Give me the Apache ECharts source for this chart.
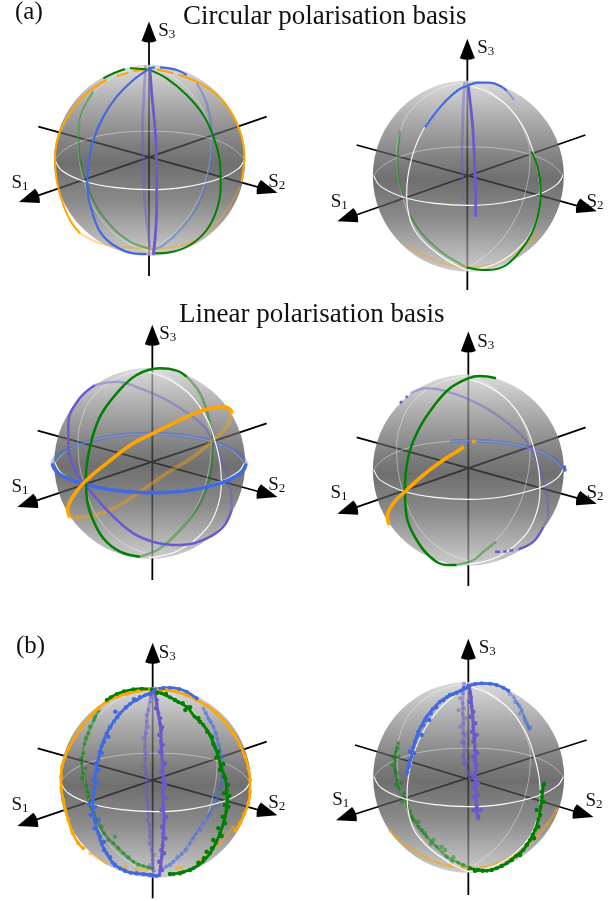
<!DOCTYPE html>
<html><head><meta charset="utf-8">
<style>html,body{margin:0;padding:0;background:#fff}#c{width:616px;height:901px}</style>
<script src="https://cdn.jsdelivr.net/npm/echarts@6/dist/echarts.min.js"></script>
</head><body><div id="c"></div>
<script>
const GAP=['-','-'];
const ORANGE='#FFA500',GREEN='#008000',BLUE='#4169E1',PURPLE='#6A5ACD';
// Panel 1: circular basis, left
const p1OrangeFront=[[440,208],[400,214],GAP,[385,218],[350,228],GAP,[320,240],[260,280],[210,340],[178,400],[165,470],[170,540],[185,600],[210,660],[240,700],GAP,[470,208],[520,220],GAP,[535,224],[590,245],[650,285],[695,340],[722,400],[733,470],[725,545]];
const p1OrangeBack=[[240,700],[300,730],[350,738],[440,745],[540,738],[620,695],[680,630],[720,560]];
const p1GreenFront=[[445,208],[500,235],[560,285],[610,345],[640,410],[660,490],[662,560],[650,630],[620,690],[570,735],[510,757],[465,760],GAP,[440,208],[390,205],GAP,[375,207],[340,220],[310,235]];
const p1GreenBack=[[280,275],[245,340],[235,410],[240,480],[258,545],[290,620],[340,685],[390,725],[445,745]];
const p1BlueFront=[[445,208],[400,240],[350,290],[310,350],[280,420],[265,490],[262,560],[275,630],[300,695],[340,735],[400,760],[440,762],GAP,[445,205],[465,202],GAP,[480,202],[530,210],[560,225]];
const p1BlueBack=[[590,250],[620,310],[635,400],[632,480],[615,560],[585,630],[540,690],[490,735],[455,750]];
const p1PurpleFront=[[450,208],[455,280],[462,350],[468,430],[470,520],[470,600],[468,680],[460,765]];
const p1PurpleBack=[[437,196],[432,280],[428,380],[430,480],[432,560],[437,640],[445,700],[450,750]];
// Panel 2: circular basis, right
const p2BlueFront=[[345,322],[375,280],[410,240],[445,210],[472,197],[505,188],[540,188],[575,200],[590,212]];
const p2BlueBack=[[590,212],[603,228],[612,240]];
const p2PurpleFront=[[475,200],[482,260],[488,320],[492,390],[495,460],[497,530],[497,590]];
const p2PurpleBack=[[464,185],[460,250],[458,320],[456,400],[458,490],GAP,[459,525],[459,540]];
const p2GreenFront=[[470,742],[520,750],[580,740],[625,700],[665,640],[685,580],[692,520],[685,450],[665,395]];
const p2GreenBack=[[270,332],[268,350],[265,380],[262,420],[263,450],[268,490],[280,525],GAP,[300,585],[335,640],[400,700],[470,742]];
const p2OrangeBack=[[290,678],[340,705],[400,730],[470,742],[540,735],[610,700],[660,665],[690,638]];
// Panel 3: linear basis, left
const p3GreenFront=[[420,770],[360,755],[310,715],[275,650],[260,590],[258,530],[270,440],[300,350],[350,280],[410,225],[480,205],[530,212],[560,230]];
const p3GreenBack=[[560,230],[600,280],[625,350],[638,430],[632,520],[600,610],[550,680],[480,745],[420,770]];
const p3BlueFront=[[157,490],[163,507],[185,527],[250,552],[340,570],[450,578],[560,572],[660,550],[715,525],[733,507],[738,490]];
const p3BlueBack=[[738,490],[730,472],[705,452],[640,425],[560,408],[450,400],[340,408],[250,430],[190,455],[165,473],[157,490]];
const p3OrangeFront=[[210,652],[203,630],[222,585],[260,540],[320,490],[400,430],[470,395],[550,355],[620,328],[670,320],[692,330],[695,340]];
const p3OrangeBack=[[210,652],[260,650],[340,625],[420,575],[500,520],[580,470],[640,420],[680,380],[695,340]];
const p3PurpleFront=[[285,255],[235,300],[205,370],[205,440],[225,510],[260,560],[330,640],[400,700],[470,728],[540,735],[620,715],[670,680],[695,630]];
const p3PurpleBack=[[285,255],[350,245],[420,265],[500,300],[570,345],[620,390],[660,470],[690,560],[695,630]];
// Panel 4: linear basis, right
const p4GreenFront=[[440,795],[410,795],[360,770],[320,720],[290,650],[285,570],[295,470],[325,390],[370,320],[420,265],[475,235],[510,228],[558,235]];
const p4GreenBack=[[440,795],[490,780],[520,755],[558,725]];
const p4OrangeFront=[[238,675],[232,650],[250,610],[285,575],[340,525],[400,480],[440,455],[462,440],GAP,[487,425],[497,423]];
const p4BlueBack=[[420,423],[500,422],[580,428],[660,445],[730,475],[760,505]];
const p4BlueFront=[[762,497],[765,515]];
const p4PurpleFront=[[270,310],[276,303],GAP,[287,292],[293,289],GAP,[700,680],[670,725],[625,748],GAP,[610,750],[598,752],GAP,[590,754],[580,755],GAP,[570,755],[555,755]];
const p4PurpleBack=[[300,280],[350,265],[430,280],[520,320],[600,375],[660,440],[700,540],[715,640],[700,680]];
// Panel 5: measured, left
const p5OrangeFront=[[450,208],[415,214],[380,222],[350,230],[320,245],[295,265],[270,290],[245,320],[225,350],[207,382],[195,410],[186,440],[183,470],[184,505],[190,540],[196,570],[205,600],[218,640],[235,670],[250,685],GAP,[470,208],[500,210],[530,215],[560,226],[590,240],[622,258],[650,280],[678,310],[700,340],[720,375],[735,410],[745,445],[750,480],[750,515],[745,550],[733,582],[720,610],[705,632]];
const p5OrangeBack=[[270,700],[320,730],GAP,[370,740],[378,741],GAP,[405,746],[440,750],GAP,[530,745],[545,742],GAP,[600,720],[660,670],[700,620]];
const p5GreenFront=[[460,212],[485,220],[510,232],[535,246],[562,262],[584,290],[610,315],[630,345],[645,382],[655,410],[663,440],[676,475],[680,510],[682,540],[679,572],[672,605],[660,640],[648,668],[630,700],[608,725],[580,745],[550,756],[520,762],GAP,[455,208],[425,206],[400,208],[372,214],[350,222],[332,232],[320,240]];
const p5GreenFrontDots=[[472,218],[498,222],[525,240],[548,250],[570,262],[556,270],[595,295],[600,305],[622,335],[636,352],[640,372],[655,395],[650,412],[670,432],[660,450],[672,470],[684,495],[672,520],[688,528],[674,555],[685,560],[668,590],[675,610],[655,625],[665,648],[640,660],[636,685],[620,695],[612,715],[595,728],[570,750],[540,760],[510,762]];
const p5GreenBack=[[296,272],[282,300],[265,340],[254,372],[250,400],[246,432],[250,460],[258,498],[265,530],[272,560],[290,600],[312,640],[340,670],[370,700],[400,725],[430,738],[455,745]];
const p5GreenBackDots=[[285,290],[270,320],[258,355],[244,415],[255,445],[246,475],[262,515],[275,545],[282,580],[305,620],[325,660],[345,650],[355,685],[385,712],[415,735],[445,742]];
const p5BlueFront=[[460,215],[435,226],[410,240],[390,252],[360,280],[342,304],[320,340],[305,378],[295,420],[288,455],[283,500],[278,540],[278,570],[285,605],[295,640],[305,672],[320,700],[338,728],[360,745],[392,758],[430,762],[470,768],GAP,[465,208],[490,204],[510,203],[538,207],[560,215],[590,235]];
const p5BlueFrontDots=[[450,222],[420,232],[402,238],[378,262],[352,292],[346,275],[330,322],[325,350],[312,365],[300,395],[305,400],[288,430],[296,450],[282,480],[290,490],[280,520],[268,552],[285,560],[272,585],[296,600],[284,625],[300,650],[312,665],[312,690],[330,712],[345,735],[375,752],[410,760],[450,765]];
const p5BlueBack=[[610,265],[625,295],[640,320],[652,358],[660,390],[666,430],[665,470],[660,505],[650,540],[628,582],[610,610],[588,642],[570,670],[545,702],[520,725],[498,740],[480,750]];
const p5BlueBackDots=[[618,280],[632,305],[648,340],[655,375],[668,410],[660,450],[668,490],[640,525],[655,555],[622,590],[600,630],[580,655],[558,690],[532,712],[510,735]];
const p5PurpleFront=[[465,220],[470,252],[475,280],[480,312],[483,330],[483,365],[485,400],[488,440],[490,480],[488,520],[490,560],[492,600],[490,640],[488,676],[485,710],[482,740],[478,765]];
const p5PurpleFrontDots=[[470,240],[468,265],[480,295],[486,322],[478,345],[488,375],[480,395],[495,430],[484,455],[496,490],[488,510],[497,535],[484,570],[498,590],[486,620],[496,655],[484,690],[492,700],[478,725],[486,750]];
const p5PurpleBack=[[455,215],[450,245],[445,270],[440,305],[437,340],[435,380],[435,420],[438,462],[440,500],[442,540],[445,580],[448,615],[450,650],[455,690],[458,720],[462,755]];
const p5PurpleBackDots=[[452,230],[440,285],[445,320],[430,355],[440,400],[430,440],[445,480],[434,520],[448,560],[442,600],[455,635],[448,670],[462,705],[452,735]];
// Panel 6: measured, right
const p6BlueFront=[[475,200],[452,212],[430,222],[410,232],[390,245],[368,268],[350,290],[333,320],[320,350],[310,382],[305,410],[298,432],[292,455],GAP,[475,197],[495,192],[515,190],[540,191],[560,195],[580,203],[595,212]];
const p6BlueFrontDots=[[462,205],[440,218],[420,225],[400,240],[378,262],[362,280],[345,300],[340,315],[358,300],[325,335],[335,345],[315,365],[300,395],[312,400],[296,440],[300,420],[290,458]];
const p6BlueBack=[[610,230],[622,250],[635,270],[642,290],[655,320],[658,328]];
const p6BlueBackDots=[[600,222],[615,245],[628,258],[630,280],[645,300],[650,310],[660,322]];
const p6PurpleFront=[[478,200],[483,232],[485,260],[488,290],[490,320],[493,355],[495,390],[495,420],[497,450],[496,480],[498,510],[498,540],[500,562],[501,575],[505,595]];
const p6PurpleFrontDots=[[480,218],[478,245],[490,275],[482,290],[496,310],[486,335],[500,345],[490,365],[502,400],[488,410],[500,435],[488,465],[504,490],[490,500],[505,525],[490,530],[500,555],[490,570],[512,570],[504,590]];
const p6PurpleBack=[[462,190],[459,220],[458,250],[458,282],[460,310],[460,340],[462,370],[462,402],[465,430],[472,455],[480,480]];
const p6PurpleBackDots=[[468,205],[450,235],[462,265],[446,270],[465,295],[450,320],[468,345],[455,365],[470,390],[458,410],[475,425],[462,430],[490,470]];
const p6GreenFront=[[480,745],[505,750],[530,752],[560,745],[590,730],[618,708],[640,690],[660,660],[675,630],[685,598],[692,560],[696,530],[700,495]];
const p6GreenFrontDots=[[495,752],[518,752],[545,750],[575,738],[605,720],[630,705],[650,675],[668,645],[685,620],[672,655],[690,585],[680,570],[700,545],[695,515],[702,492]];
const p6GreenBack=[[265,368],[258,395],[255,420],[255,450],[262,480],[268,505],[280,530],[292,560],[305,590],[325,620],[350,650],[380,680],[410,710],[445,728],[480,745]];
const p6GreenBackDots=[[262,385],[250,410],[265,410],[248,435],[260,460],[272,490],[258,495],[285,520],[278,545],[300,575],[310,600],[325,605],[335,630],[345,640],[370,660],[362,672],[395,680],[405,690],[430,712],[425,725],[460,735]];
const p6OrangeBack=[[240,632],[262,655],[285,675],[315,695],[350,715],[385,728],[420,738],[455,742],[490,745],[525,740],[560,730],[590,716],[620,700],[650,678],[680,650],[712,612],[740,570]];
// Faint and bright reference circles on every sphere, relative to its centre
const equatorFront=[[-284,-2],[-262,32],[-190,65],[-100,82],[0,88],[100,81],[210,55],[266,25],[284,-2]];
const equatorBack=[[284,-2],[251,-35],[191,-63],[100,-82],[0,-87],[-100,-82],[-190,-63],[-254,-33],[-284,-2]];
const meridianLeftFront=[[-3,-274],[-75,-218],[-130,-148],[-168,-60],[-185,62],[-178,118],[-160,165],[-115,215],[-60,255],[-3,283]];
const meridianRightFront=[[-3,-274],[70,-245],[145,-178],[195,-70],[215,62],[200,142],[165,202],[85,262],[-3,283]];
const meridianBack=[[[3,-283],[-90,-260],[-170,-200],[-205,-130],[-215,-62],[-195,70],[-145,178],[-70,245],[3,273]],[[3,-283],[70,-250],[125,-200],[165,-140],[185,-62],[168,60],[130,148],[75,218],[3,273]]];
const axisNames=['1','2','3'];

const thin={[ORANGE]:2,[GREEN]:2,[BLUE]:2.2,[PURPLE]:2.8};
const thick={[ORANGE]:3.6,[GREEN]:2.5,[BLUE]:3.6,[PURPLE]:2.5};
const band={[ORANGE]:2.6,[GREEN]:2.8,[BLUE]:2.8,[PURPLE]:3};
const panels=[
 {crop:[0,0,300,290],c:[449,481],s3:[[447,68],[447,828]],s1:[[57,606],[800,350]],s2:[[832,578],[115,380]],lab:[[60,548],[830,545],[500,92]],mer:[],w:thin,
  front:[[p1OrangeFront,ORANGE],[p1GreenFront,GREEN],[p1BlueFront,BLUE],[p1PurpleFront,PURPLE]],back:[[p1OrangeBack,ORANGE],[p1GreenBack,GREEN],[p1BlueBack,BLUE],[p1PurpleBack,PURPLE]]},
 {crop:[310,20,300,270],c:[475,468],s3:[[472,60],[472,810]],s1:[[82,604],[826,345]],s2:[[860,574],[140,375]],lab:[[88,545],[855,545],[527,85]],mer:[meridianLeftFront,meridianRightFront],w:thin,
  front:[[p2BlueFront,BLUE],[p2PurpleFront,PURPLE],[p2GreenFront,GREEN]],back:[[p2BlueBack,BLUE],[p2PurpleBack,PURPLE],[p2GreenBack,GREEN],[p2OrangeBack,ORANGE]]},
 {crop:[0,300,300,290],c:[449,490],s3:[[457,78],[457,840]],s1:[[52,621],[800,370]],s2:[[832,591],[113,392]],lab:[[60,560],[830,555],[503,103]],mer:[meridianRightFront],w:thick,
  front:[[p3BlueFront,BLUE],[p3PurpleFront,PURPLE],[p3GreenFront,GREEN],[p3OrangeFront,ORANGE]],back:[[p3BlueBack,BLUE],[p3PurpleBack,PURPLE],[p3GreenBack,GREEN],[p3OrangeBack,ORANGE]]},
 {crop:[310,300,300,290],c:[475,510],s3:[[475,98],[475,858]],s1:[[82,641],[827,382]],s2:[[860,611],[140,412]],lab:[[87,578],[855,578],[527,125]],mer:[meridianRightFront],w:thick,
  front:[[p4BlueFront,BLUE],[p4PurpleFront,PURPLE],[p4GreenFront,GREEN],[p4OrangeFront,ORANGE]],back:[[p4BlueBack,BLUE],[p4PurpleBack,PURPLE],[p4GreenBack,GREEN]]},
 {crop:[0,620,300,281],c:[466,487],s3:[[458,72],[458,835]],s1:[[52,618],[800,365]],s2:[[832,586],[113,385]],lab:[[60,555],[830,550],[502,100]],mer:[],noisy:true,w:band,
  front:[[p5OrangeFront,ORANGE],[p5GreenFront,GREEN],[p5BlueFront,BLUE],[p5PurpleFront,PURPLE]],back:[[p5OrangeBack,ORANGE],[p5GreenBack,GREEN],[p5BlueBack,BLUE],[p5PurpleBack,PURPLE]],
  frontDots:[[p5GreenFrontDots,GREEN],[p5BlueFrontDots,BLUE],[p5PurpleFrontDots,PURPLE]],backDots:[[p5GreenBackDots,GREEN],[p5BlueBackDots,BLUE],[p5PurpleBackDots,PURPLE]]},
 {crop:[310,620,300,281],c:[476,472],s3:[[475,60],[475,825]],s1:[[78,601],[830,360]],s2:[[850,591],[135,375]],lab:[[92,540],[852,542],[532,85]],mer:[meridianLeftFront,meridianRightFront],noisy:true,w:band,
  front:[[p6BlueFront,BLUE],[p6PurpleFront,PURPLE],[p6GreenFront,GREEN]],back:[[p6BlueBack,BLUE],[p6PurpleBack,PURPLE],[p6GreenBack,GREEN],[p6OrangeBack,ORANGE]],
  frontDots:[[p6GreenFrontDots,GREEN],[p6BlueFrontDots,BLUE],[p6PurpleFrontDots,PURPLE]],backDots:[[p6GreenBackDots,GREEN],[p6BlueBackDots,BLUE],[p6PurpleBackDots,PURPLE]]}
];

const SERIF='"Liberation Serif","Times New Roman",serif';
const grid=[],xAxis=[],yAxis=[],series=[];
const sphereFill={type:'linear',x:0,y:0,x2:0,y2:1,colorStops:[
 {offset:0,color:'rgba(205,205,205,0.72)'},{offset:.18,color:'rgba(150,150,150,0.74)'},{offset:.42,color:'rgba(82,82,82,0.74)'},
 {offset:.52,color:'rgba(66,66,66,0.76)'},{offset:.72,color:'rgba(98,98,98,0.74)'},{offset:1,color:'rgba(185,185,185,0.72)'}]};
panels.forEach((p,i)=>{
 const [l,t,w,h]=p.crop;
 grid.push({left:l,top:t,width:w,height:h,containLabel:false,show:false});
 xAxis.push({type:'value',gridIndex:i,min:0,max:w*3,show:false});
 yAxis.push({type:'value',gridIndex:i,min:0,max:h*3,inverse:true,show:false});
 const base={xAxisIndex:i,yAxisIndex:i,animation:false,silent:true};
 const rel=a=>a.map(q=>[q[0]+p.c[0],q[1]+p.c[1]]);
 [[p.s1,[30,-10]],[p.s2,[-30,-9]],[p.s3,[0,28]]].forEach(([seg,off])=>{
  const centre=[seg[0][0]+off[0],seg[0][1]+off[1]];
  series.push({...base,type:'line',z:1,showSymbol:false,data:[centre,seg[1]],lineStyle:{color:'#000',width:1.8}});
 });
 series.push({...base,type:'scatter',z:2,data:[p.c],symbol:'circle',symbolSize:191,itemStyle:{color:sphereFill,opacity:1},clip:false});
 meridianBack.concat([equatorBack]).forEach(a=>series.push({...base,type:'line',z:3,smooth:.4,showSymbol:false,data:rel(a),lineStyle:{color:'#fff',width:.8,opacity:.5}}));
 p.back.forEach(([d,col])=>series.push({...base,type:'line',z:4,smooth:.4,data:d,
   showSymbol:!!p.noisy,symbol:'circle',symbolSize:4,itemStyle:{color:col,opacity:.42},lineStyle:{color:col,width:p.w[col],opacity:.42}}));
 (p.backDots||[]).forEach(([d,col])=>series.push({...base,type:'scatter',z:4,data:d,symbol:'circle',symbolSize:4.5,itemStyle:{color:col,opacity:.42}}));
 p.mer.concat([equatorFront]).forEach(a=>series.push({...base,type:'line',z:5,smooth:.4,showSymbol:false,data:rel(a),lineStyle:{color:'#fff',width:1.1}}));
 p.front.forEach(([d,col])=>series.push({...base,type:'line',z:6,smooth:.4,data:d,
   showSymbol:!!p.noisy,symbol:'circle',symbolSize:4,itemStyle:{color:col},lineStyle:{color:col,width:p.w[col]}}));
 (p.frontDots||[]).forEach(([d,col])=>series.push({...base,type:'scatter',z:6,data:d,symbol:'circle',symbolSize:4.5,itemStyle:{color:col,opacity:1}}));
 [[p.s1,[30,-10],108.4],[p.s2,[-30,-9],-106.5],[p.s3,[0,28],0]].forEach(([seg,off,rot])=>{
  series.push({...base,type:'scatter',z:7,clip:false,data:[[seg[0][0]+off[0],seg[0][1]+off[1]]],
   symbol:'path://M0,-10 L7,8 Q0,11 -7,8 Z',symbolSize:[15,21],symbolRotate:rot,itemStyle:{color:'#000',opacity:1}});
 });
 p.lab.forEach((q,k)=>{
  series.push({...base,type:'scatter',z:8,clip:false,symbolSize:1,itemStyle:{color:'rgba(0,0,0,0)',opacity:1},data:[q],
   label:{show:true,position:'inside',formatter:'{s|S}{n|'+axisNames[k]+'}',rich:{
     s:{fontFamily:SERIF,fontSize:19,color:'#111'},
     n:{fontFamily:SERIF,fontSize:13,color:'#111',verticalAlign:'bottom',padding:[7,0,0,0]}}}});
 });
});
const title=[
 {text:'(a)',left:15,top:0,textStyle:{fontFamily:SERIF,fontSize:25,fontWeight:'normal',color:'#111'},padding:0},
 {text:'Circular polarisation basis',left:183,top:3,textStyle:{fontFamily:SERIF,fontSize:27,fontWeight:'normal',color:'#111'},padding:0},
 {text:'Linear polarisation basis',left:179,top:301,textStyle:{fontFamily:SERIF,fontSize:27,fontWeight:'normal',color:'#111'},padding:0},
 {text:'(b)',left:16,top:634,textStyle:{fontFamily:SERIF,fontSize:25,fontWeight:'normal',color:'#111'},padding:0}
];
const chart=echarts.init(document.getElementById('c'),null,{renderer:'canvas'});
chart.setOption({backgroundColor:'#fff',animation:false,title,grid,xAxis,yAxis,series});
</script></body></html>
